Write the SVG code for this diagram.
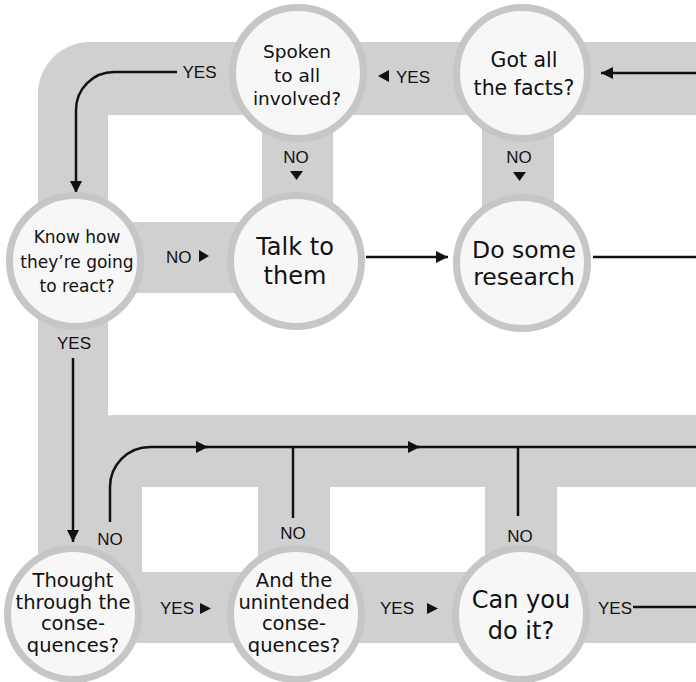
<svg xmlns="http://www.w3.org/2000/svg" width="696" height="682" viewBox="0 0 696 682">
<defs>
<style>
.band{fill:#d0d0d0;}
.node circle{fill:#f7f7f7;stroke:#c6c6c6;stroke-width:7;}
.node text{font-family:"DejaVu Sans","Open Sans",sans-serif;fill:#111;text-anchor:middle;}
.lbl{font-family:"Liberation Sans",Arial,sans-serif;font-size:17px;fill:#111;}
.c{text-anchor:middle;}
.conn path{fill:none;stroke:#111;stroke-width:2.5;}
.tri{fill:#111;}
</style>
<marker id="ah" viewBox="0 0 12 12" refX="12" refY="6" markerWidth="12" markerHeight="12" orient="auto" markerUnits="userSpaceOnUse">
<path d="M0,0 L12,6 L0,12 Z" fill="#111"/>
</marker>
</defs>
<rect width="696" height="682" fill="#ffffff"/>
<g id="bands">
<path class="band" d="M696,42 H90 A52,52 0 0 0 38,94 V610 H108 V115 H696 Z"/>
<rect class="band" x="100" y="222" width="198" height="71"/>
<rect class="band" x="262" y="100" width="71" height="162"/>
<rect class="band" x="482" y="100" width="72" height="164"/>
<path class="band" d="M100,487 V421 Q100,415 114,415 H696 V487 Z"/>
<rect class="band" x="38" y="480" width="104" height="130"/>
<rect class="band" x="258" y="480" width="72" height="130"/>
<rect class="band" x="485" y="480" width="72" height="130"/>
<rect class="band" x="73" y="572" width="623" height="71"/>
</g>
<g id="connectors" class="conn">
<path d="M696,73 H601" marker-end="url(#ah)"/>
<path d="M177,72 H114 A38,38 0 0 0 76,110 V193" marker-end="url(#ah)"/>
<path d="M366,257 H448" marker-end="url(#ah)"/>
<path d="M593,257 H696"/>
<path d="M73,358 V542" marker-end="url(#ah)"/>
<path d="M110,522 V487 A40,40 0 0 1 150,447 H208" marker-end="url(#ah)"/>
<path d="M206,447 H420" marker-end="url(#ah)"/>
<path d="M418,447 H696"/>
<path d="M293,447 V518"/>
<path d="M518,447 V516"/>
<path d="M633,607 H696"/>
</g>
<g id="labels">
<text class="lbl c" x="199.5" y="78">YES</text>
<polygon class="tri" points="378,76 389,70 389,82"/>
<text class="lbl" x="396" y="83">YES</text>
<text class="lbl c" x="296" y="163">NO</text>
<polygon class="tri" points="290,171 303,171 296.5,180"/>
<text class="lbl c" x="519" y="163">NO</text>
<polygon class="tri" points="513,172 526,172 519.5,181"/>
<text class="lbl" x="166" y="263">NO</text>
<polygon class="tri" points="199,250 209,256 199,262"/>
<text class="lbl c" x="74" y="349">YES</text>
<text class="lbl c" x="110" y="545">NO</text>
<text class="lbl c" x="293" y="539">NO</text>
<text class="lbl c" x="520" y="542">NO</text>
<text class="lbl" x="160" y="614">YES</text>
<polygon class="tri" points="200,603 211,608.5 200,614"/>
<text class="lbl" x="380" y="614">YES</text>
<polygon class="tri" points="427,603 438,608.5 427,614"/>
<text class="lbl" x="598" y="614">YES</text>
</g>
<g id="spoken" class="node">
<circle cx="298" cy="73" r="65.5"/>
<text font-size="18.5"><tspan x="297" y="58">Spoken</tspan><tspan x="297" y="82">to all</tspan><tspan x="297" y="105">involved?</tspan></text>
</g>
<g id="facts" class="node">
<circle cx="522" cy="73" r="65.5"/>
<text font-size="20.5"><tspan x="524" y="67">Got all</tspan><tspan x="524" y="95">the facts?</tspan></text>
</g>
<g id="knowhow" class="node">
<circle cx="75" cy="261" r="65.5"/>
<text font-size="17"><tspan x="77" y="243">Know how</tspan><tspan x="77" y="268">they’re going</tspan><tspan x="77" y="292">to react?</tspan></text>
</g>
<g id="talk" class="node">
<circle cx="296" cy="261" r="65.5"/>
<text font-size="24"><tspan x="295" y="255">Talk to</tspan><tspan x="295" y="284">them</tspan></text>
</g>
<g id="research" class="node">
<circle cx="522" cy="263" r="65.5"/>
<text font-size="23.5"><tspan x="524" y="258">Do some</tspan><tspan x="524" y="285">research</tspan></text>
</g>
<g id="thought" class="node">
<circle cx="73" cy="614" r="65.5"/>
<text font-size="19.5"><tspan x="73" y="587">Thought</tspan><tspan x="73" y="608.5">through the</tspan><tspan x="73" y="630">conse-</tspan><tspan x="73" y="651.5">quences?</tspan></text>
</g>
<g id="unintended" class="node">
<circle cx="296" cy="614" r="65.5"/>
<text font-size="19.5"><tspan x="294" y="587">And the</tspan><tspan x="294" y="608.5">unintended</tspan><tspan x="294" y="630">conse-</tspan><tspan x="294" y="651.5">quences?</tspan></text>
</g>
<g id="canyou" class="node">
<circle cx="521" cy="614" r="65.5"/>
<text font-size="24"><tspan x="521" y="608">Can you</tspan><tspan x="521" y="639">do it?</tspan></text>
</g>
</svg>
